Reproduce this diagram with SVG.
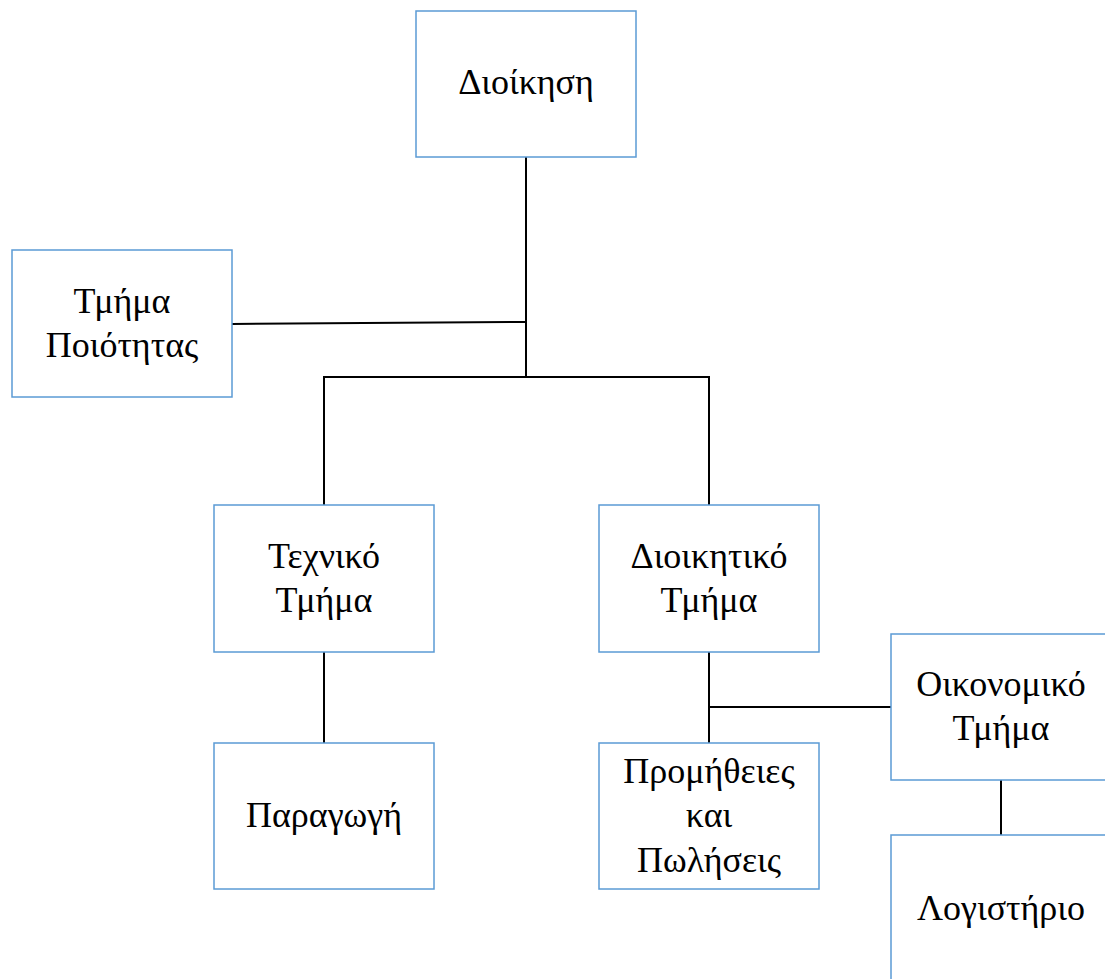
<svg xmlns="http://www.w3.org/2000/svg" width="1105" height="979" viewBox="0 0 1105 979">
<style>
.box{fill:#ffffff;stroke:#5B9BD5;stroke-width:1.5}
.t{font-family:"Liberation Serif","Times New Roman",serif;font-size:36px;fill:#000;text-anchor:middle}
.c{stroke:#000;stroke-width:2;fill:none}
</style>
<rect width="1105" height="979" fill="#ffffff"/>
<g id="connectors">
<path class="c" d="M526,157 V377"/>
<path class="c" d="M232,324 L526,322"/>
<path class="c" d="M324,505 V377 H709 V505"/>
<path class="c" d="M324,652 V743"/>
<path class="c" d="M709,652 V743"/>
<path class="c" d="M709,707 H891"/>
<path class="c" d="M1001,780 V835"/>
</g>
<g id="n-dioikisi">
<rect class="box" x="416" y="11" width="220" height="146"/>
<text class="t" x="526" y="94">Διοίκηση</text>
</g>
<g id="n-poiotita">
<rect class="box" x="12" y="250" width="220" height="147"/>
<text class="t" x="122" y="313">Τμήμα</text>
<text class="t" x="122" y="357">Ποιότητας</text>
</g>
<g id="n-texniko">
<rect class="box" x="214" y="505" width="220" height="147"/>
<text class="t" x="324" y="568">Τεχνικό</text>
<text class="t" x="324" y="612">Τμήμα</text>
</g>
<g id="n-dioikitiko">
<rect class="box" x="599" y="505" width="220" height="147"/>
<text class="t" x="709" y="568">Διοικητικό</text>
<text class="t" x="709" y="612">Τμήμα</text>
</g>
<g id="n-paragogi">
<rect class="box" x="214" y="743" width="220" height="146"/>
<text class="t" x="324" y="827">Παραγωγή</text>
</g>
<g id="n-promitheies">
<rect class="box" x="599" y="743" width="220" height="146"/>
<text class="t" x="709" y="783">Προμήθειες</text>
<text class="t" x="709" y="827">και</text>
<text class="t" x="709" y="872">Πωλήσεις</text>
</g>
<g id="n-oikonomiko">
<rect class="box" x="891" y="634" width="220" height="146"/>
<text class="t" x="1001" y="696">Οικονομικό</text>
<text class="t" x="1001" y="740">Τμήμα</text>
</g>
<g id="n-logistirio">
<rect class="box" x="891" y="835" width="220" height="146"/>
<text class="t" x="1001" y="920">Λογιστήριο</text>
</g>
</svg>
